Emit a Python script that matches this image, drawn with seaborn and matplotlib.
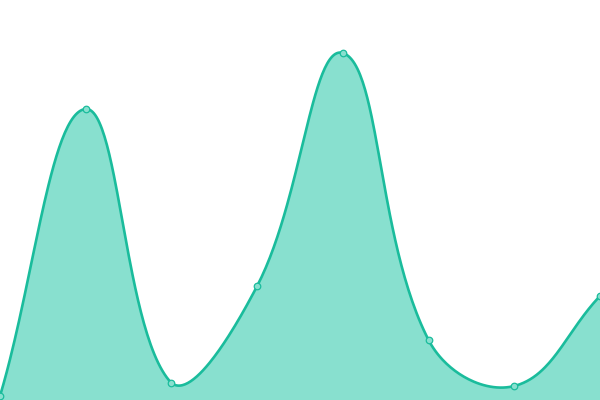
import numpy as np
import pandas as pd
import seaborn as sns
import matplotlib.pyplot as plt

# DATA
positions = [0, 1, 2, 3, 4, 5, 6, 7]
values = [4, 291, 17, 114, 347, 60, 14, 104]

LINE = "#1abc9c"
FILL = "#88e0cf"

sns.set_theme(style="white")

W, H = 600, 400
fig = plt.figure(figsize=(6, 4), dpi=100)
ax = fig.add_axes([0, 0, 1, 1])

# smooth curve, tension-style spline through the points (in pixel space)
px = np.array(positions) * W / (len(positions) - 1)
py = np.array(values, dtype=float)
t = 0.4
pts = np.column_stack([px, py])
n = len(pts)
cp_prev = pts.copy()
cp_next = pts.copy()
for i in range(n):
    prev = pts[max(i - 1, 0)]
    cur = pts[i]
    nxt = pts[min(i + 1, n - 1)]
    d01 = np.hypot(*(cur - prev))
    d12 = np.hypot(*(nxt - cur))
    tot = d01 + d12
    s01 = d01 / tot if tot else 0
    s12 = d12 / tot if tot else 0
    cp_prev[i] = cur - t * s01 * (nxt - prev)
    cp_next[i] = cur + t * s12 * (nxt - prev)
cp_prev[:, 1] = cp_prev[:, 1].clip(0, H)
cp_next[:, 1] = cp_next[:, 1].clip(0, H)

curve = []
u = np.linspace(0, 1, 60)[:, None]
for i in range(n - 1):
    p0, p1, p2, p3 = pts[i], cp_next[i], cp_prev[i + 1], pts[i + 1]
    seg = (1 - u) ** 3 * p0 + 3 * (1 - u) ** 2 * u * p1 + 3 * (1 - u) * u ** 2 * p2 + u ** 3 * p3
    curve.append(seg if i == 0 else seg[1:])
curve = np.vstack(curve)
cx = curve[:, 0] * (len(positions) - 1) / W
cy = curve[:, 1]

ax.fill_between(cx, cy, 0, color=FILL, linewidth=0)
ax.plot(cx, cy, color=LINE, linewidth=1.9, solid_capstyle="round")

df = pd.DataFrame({"x": positions, "y": values})
sns.scatterplot(data=df, x="x", y="y", ax=ax, s=22, color=FILL,
                edgecolor=LINE, linewidth=0.9, zorder=5, clip_on=False)

ax.set_xlim(0, len(positions) - 1)
ax.set_ylim(0, H)
ax.axis("off")

fig.savefig("out.png", dpi=100)
